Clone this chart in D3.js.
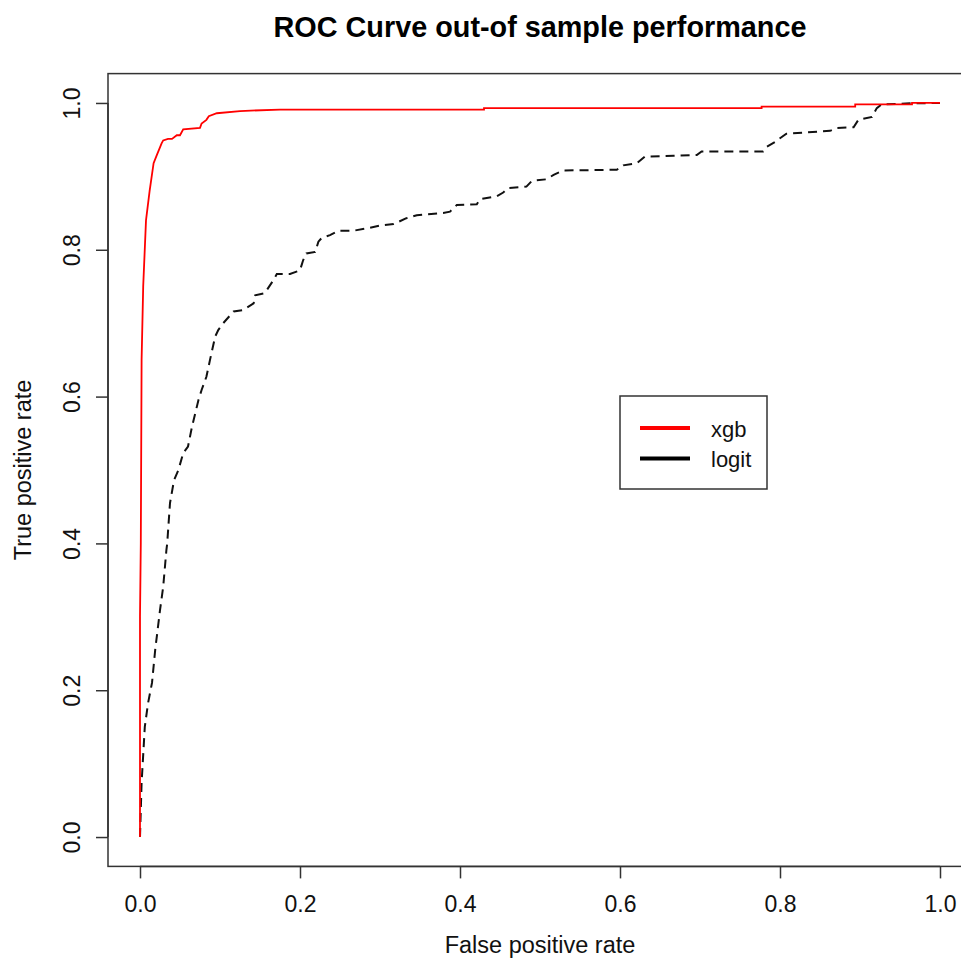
<!doctype html>
<html>
<head>
<meta charset="utf-8">
<title>ROC Curve</title>
<script src="https://cdn.jsdelivr.net/npm/d3@7"></script>
<style>
  body { margin: 0; background: #fff; }
  svg { display: block; font-family: "Liberation Sans", Arial, Helvetica, sans-serif; }
  .axis path, .axis line { stroke: #333; stroke-width: 1.5; }
  .axis text { font-size: 23px; fill: #111; }
</style>
</head>
<body>
<svg id="chart" width="961" height="960"></svg>
<script>
// tick values
var xTicks = [0, 0.2, 0.4, 0.6, 0.8, 1.0];
var yTicks = [0, 0.2, 0.4, 0.6, 0.8, 1.0];

// xgb roc (false positive rate / true positive rate)
var xgbFpr = [0, 0.000, 0.001, 0.002, 0.004, 0.0075, 0.012, 0.017, 0.021, 0.027, 0.029, 0.035, 0.040, 0.046, 0.050, 0.054, 0.075, 0.077, 0.083, 0.086, 0.096, 0.125, 0.175, 0.43, 0.43, 0.777, 0.777, 0.894, 0.894, 0.965, 0.965, 1];
var xgbTpr = [0, 0.30, 0.40, 0.65, 0.75, 0.84, 0.88, 0.918, 0.929, 0.945, 0.949, 0.951, 0.951, 0.956, 0.956, 0.964, 0.966, 0.972, 0.977, 0.982, 0.986, 0.989, 0.991, 0.991, 0.993, 0.993, 0.995, 0.995, 0.998, 0.998, 1, 1];

// logit roc
var logitFpr = [0, 0.002, 0.006, 0.010, 0.015, 0.019, 0.025, 0.029, 0.033, 0.034, 0.0375, 0.0425, 0.048, 0.054, 0.060, 0.065, 0.069, 0.073, 0.077, 0.083, 0.0875, 0.094, 0.098, 0.104, 0.117, 0.129, 0.142, 0.144, 0.156, 0.167, 0.171, 0.1875, 0.200, 0.204, 0.208, 0.219, 0.223, 0.227, 0.2375, 0.248, 0.267, 0.283, 0.300, 0.317, 0.333, 0.346, 0.379, 0.3875, 0.396, 0.421, 0.425, 0.446, 0.454, 0.460, 0.483, 0.490, 0.508, 0.517, 0.529, 0.596, 0.604, 0.621, 0.631, 0.667, 0.696, 0.702, 0.779, 0.783, 0.794, 0.800, 0.808, 0.8625, 0.871, 0.892, 0.898, 0.915, 0.921, 0.927, 0.9625, 1];
var logitTpr = [0, 0.074, 0.150, 0.182, 0.210, 0.255, 0.309, 0.341, 0.391, 0.400, 0.455, 0.486, 0.500, 0.523, 0.532, 0.559, 0.577, 0.595, 0.609, 0.627, 0.650, 0.682, 0.691, 0.700, 0.716, 0.718, 0.727, 0.738, 0.741, 0.759, 0.767, 0.767, 0.772, 0.786, 0.795, 0.797, 0.811, 0.816, 0.820, 0.826, 0.826, 0.829, 0.833, 0.835, 0.843, 0.847, 0.850, 0.852, 0.861, 0.862, 0.869, 0.873, 0.878, 0.884, 0.886, 0.894, 0.896, 0.902, 0.908, 0.909, 0.915, 0.918, 0.927, 0.928, 0.929, 0.934, 0.934, 0.940, 0.947, 0.952, 0.958, 0.962, 0.966, 0.967, 0.977, 0.981, 0.993, 0.998, 0.9995, 1];

var legendNames = ["xgb", "logit"];
var legendColors = ["#ff0000", "#000000"];

var svg = d3.select("#chart");

// R style: 4% padding on both ends
var x = d3.scaleLinear().domain([-0.04, 1.04]).range([108, 972]);
var y = d3.scaleLinear().domain([-0.04, 1.04]).range([866.4, 73.6]);

// plot box
svg.append("rect")
  .attr("x", x(-0.04)).attr("y", y(1.04))
  .attr("width", x(1.04) - x(-0.04))
  .attr("height", y(-0.04) - y(1.04))
  .attr("fill", "none").attr("stroke", "#333").attr("stroke-width", 1.5);

// x axis
var gx = svg.append("g").attr("class", "axis")
  .attr("transform", "translate(0," + y(-0.04) + ")")
  .call(d3.axisBottom(x).tickValues(xTicks).tickSize(12).tickSizeOuter(0)
    .tickPadding(17).tickFormat(d3.format(".1f")));
gx.select(".domain").attr("d", "M" + x(0) + ",0H" + x(1));

// y axis, labels rotated like base R
var gy = svg.append("g").attr("class", "axis")
  .attr("transform", "translate(" + x(-0.04) + ",0)")
  .call(d3.axisLeft(y).tickValues(yTicks).tickSize(12).tickSizeOuter(0)
    .tickFormat(d3.format(".1f")));
gy.select(".domain").attr("d", "M0," + y(0) + "V" + y(1));
gy.selectAll(".tick text")
  .attr("x", null).attr("dy", null)
  .attr("text-anchor", "middle")
  .attr("transform", "translate(-28,0) rotate(-90)");

// curves
var line = d3.line()
  .x(function(d) { return x(d[0]); })
  .y(function(d) { return y(d[1]); });

var logitPts = logitFpr.map(function(f, i) { return [f, logitTpr[i]]; });
var xgbPts = xgbFpr.map(function(f, i) { return [f, xgbTpr[i]]; });

svg.append("path")
  .attr("d", line(logitPts))
  .attr("fill", "none")
  .attr("stroke", "#111")
  .attr("stroke-width", 2)
  .attr("stroke-dasharray", "9,6");

svg.append("path")
  .attr("d", line(xgbPts))
  .attr("fill", "none")
  .attr("stroke", "#ff0000")
  .attr("stroke-width", 1.8);

// title and labels
svg.append("text")
  .attr("x", 540).attr("y", 37)
  .attr("text-anchor", "middle")
  .attr("font-size", "28.8px").attr("font-weight", "bold")
  .text("ROC Curve out-of sample performance");

svg.append("text")
  .attr("x", 540).attr("y", 953)
  .attr("text-anchor", "middle")
  .attr("font-size", "23.5px").attr("fill", "#111")
  .text("False positive rate");

svg.append("text")
  .attr("transform", "translate(31,470) rotate(-90)")
  .attr("text-anchor", "middle")
  .attr("font-size", "23.5px").attr("fill", "#111")
  .text("True positive rate");

// legend
var legend = svg.append("g").attr("transform", "translate(620,396)");
legend.append("rect")
  .attr("width", 147).attr("height", 93)
  .attr("fill", "#fff").attr("stroke", "#333").attr("stroke-width", 1.5);
legendNames.forEach(function(name, i) {
  legend.append("line")
    .attr("x1", 20).attr("x2", 70)
    .attr("y1", 32 + i * 30.5).attr("y2", 32 + i * 30.5)
    .attr("stroke", legendColors[i]).attr("stroke-width", 4);
  legend.append("text")
    .attr("x", 91).attr("y", 40.5 + i * 30.5)
    .attr("font-size", "22px").attr("fill", "#111")
    .text(name);
});
</script>
</body>
</html>
